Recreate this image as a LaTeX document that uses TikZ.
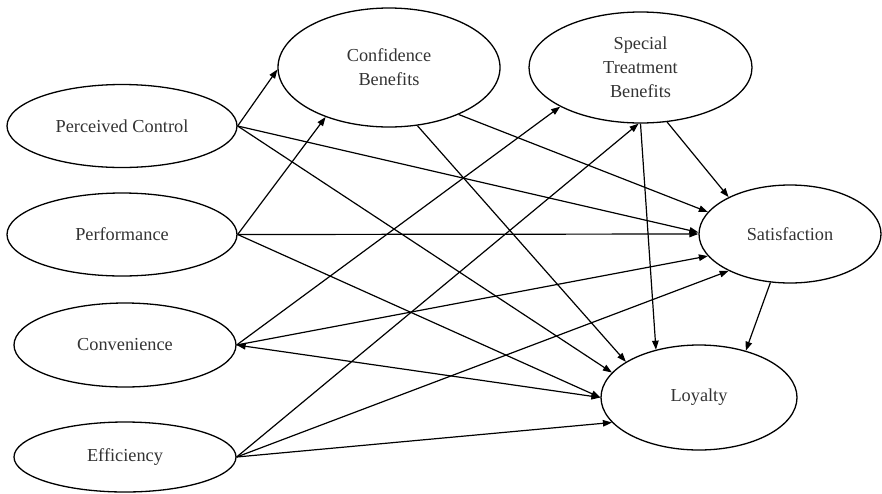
\documentclass[tikz,border=0pt]{standalone}
\usepackage{fontspec}
\setmainfont{Liberation Serif}
\usetikzlibrary{shapes.geometric,arrows.meta}
\definecolor{txt}{HTML}{333333}
\tikzset{
  el/.style={ellipse, draw=black, line width=1.3pt, inner sep=0pt, align=center,
    text=txt, font=\fontsize{18.3}{24}\selectfont},
  arr/.style={line width=1.2pt, -{Triangle[length=9pt,width=6.5pt]}},
  darr/.style={line width=1.2pt, {Triangle[length=9pt,width=6.5pt]}-{Triangle[length=9pt,width=6.5pt]}}
}
\begin{document}
\begin{tikzpicture}[x=1pt,y=-1pt]
\useasboundingbox (0,0) rectangle (882,493);
\node[el, minimum width=230pt, minimum height=83pt] (pc) at (122,126) {Perceived Control};
\node[el, minimum width=230pt, minimum height=83pt] (pf) at (122,234.5) {Performance};
\node[el, minimum width=222pt, minimum height=84pt] (cv) at (125,345) {Convenience};
\node[el, minimum width=222pt, minimum height=70pt] (ef) at (125,457) {Efficiency};
\node[el, minimum width=222pt, minimum height=119pt] (cb) at (389,67.5) {Confidence\\Benefits};
\node[el, minimum width=223pt, minimum height=111pt] (st) at (640.5,67.5) {Special\\Treatment\\Benefits};
\node[el, minimum width=182pt, minimum height=98pt] (sa) at (790,234) {Satisfaction};
\node[el, minimum width=196pt, minimum height=105pt] (lo) at (699,397.5) {Loyalty};

\draw[arr] (pc.east) -- (cb.181);
\draw[arr] (pc.east) -- (sa.179);
\draw[arr] (pc.east) -- (lo.164.6);
\draw[arr] (pf.east) -- (cb.218.3);
\draw[arr] (pf.east) -- (sa.180);
\draw[arr] (pf.east) -- (lo.180);
\draw[arr] (cv.east) -- (st.206.1);
\draw[arr] (cv.east) -- (sa.195.3);
\draw[darr] (cv.east) -- (lo.180);
\draw[arr] (ef.east) -- (st.268.5);
\draw[arr] (ef.east) -- (sa.211.9);
\draw[arr] (ef.east) -- (lo.196.5);
\draw[arr] (cb.326.2) -- (sa.165.3);
\draw[arr] (cb.296) -- (lo.154.4);
\draw[arr] (st.296.4) -- (sa.149.9);
\draw[arr] (st.270) -- (lo.132.8);
\draw[arr] (sa.248.4) -- (lo.45.3);
\end{tikzpicture}
\end{document}
